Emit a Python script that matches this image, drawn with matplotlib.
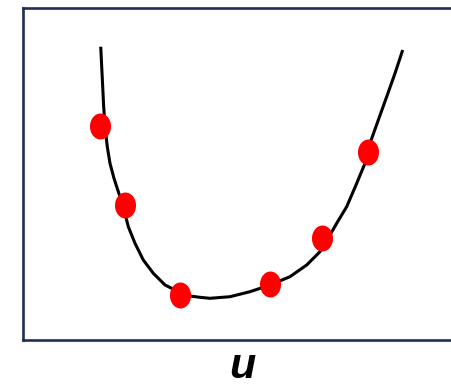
import matplotlib
matplotlib.use("Agg")
import matplotlib.pyplot as plt
import numpy as np
from matplotlib.path import Path

# Fitted curve
curve_x = [1.727, 1.749, 1.771, 1.793, 1.822, 1.873, 1.933, 2.022, 2.082, 2.229,
           2.340, 2.489, 2.673, 2.896, 3.156, 3.451, 3.711, 3.933, 4.156, 4.600,
           5.044, 5.489, 5.933, 6.304, 6.600, 6.822, 6.971, 7.193, 7.416, 7.600,
           7.711, 7.896, 8.082, 8.267, 8.438]
curve_y = [8.834, 8.232, 7.630, 7.027, 6.425, 5.822, 5.322, 4.870, 4.617, 4.015,
           3.413, 2.913, 2.410, 2.009, 1.657, 1.455, 1.325, 1.286, 1.256, 1.304,
           1.455, 1.657, 1.907, 2.259, 2.660, 3.163, 3.515, 4.015, 4.720, 5.322,
           5.925, 6.627, 7.328, 8.033, 8.735]

# Observed points
pts_x = [1.711, 2.267, 3.489, 5.489, 6.644, 7.667]
pts_y = [6.446, 4.066, 1.355, 1.687, 3.072, 5.663]

xlabel = "u"

W, H = 451, 388
fig = plt.figure(figsize=(W / 100, H / 100), dpi=100)
ax = fig.add_axes([23 / W, (H - 340) / H, 450 / W, 332 / H])
ax.set_xlim(0, 10)
ax.set_ylim(0, 10)

ax.plot(curve_x, curve_y, color="black", lw=2.2, solid_capstyle="butt",
        solid_joinstyle="round", zorder=2)

t = np.linspace(0, 2 * np.pi, 60)
verts = np.column_stack([0.81 * np.cos(t), np.sin(t)])
ell = Path(verts, closed=True)
ax.plot(pts_x, pts_y, linestyle="none", marker=ell, markersize=18.7,
        color="#ff0000", markeredgewidth=0, zorder=3)

ax.set_xticks([])
ax.set_yticks([])
for s in ax.spines.values():
    s.set_color("#1f2f50")
    s.set_linewidth(1.9)

fig.text(242 / W, 1 / H, xlabel, ha="center", va="bottom",
         fontsize=31, fontweight="bold", fontstyle="italic",
         family="Liberation Sans")

fig.savefig("out.png", dpi=100)
